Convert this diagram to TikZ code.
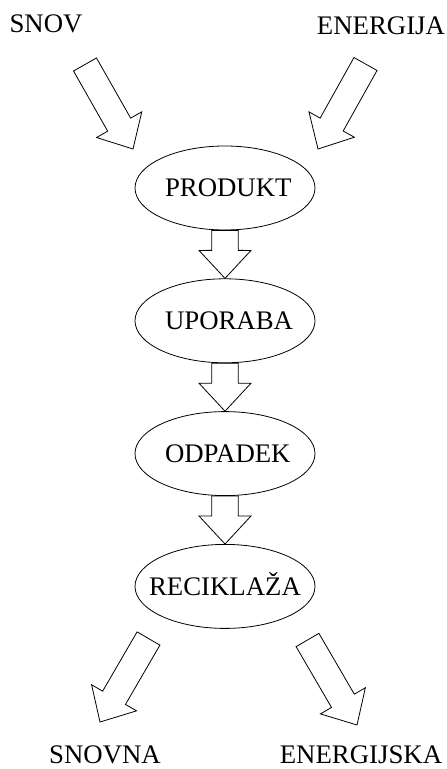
\documentclass[tikz,border=0pt]{standalone}
\usepackage{fontspec}
\setmainfont{Liberation Serif}
\usetikzlibrary{shapes.geometric,positioning,calc}

\tikzset{
  stage/.style={ellipse,draw,thin,minimum width=90pt,minimum height=42pt,inner sep=0pt,
    text width=60pt,align=center,text height=9pt,text depth=0pt},
  tag/.style={inner sep=0pt,text depth=0pt},
  flow/.style={draw,thin,line join=miter,to path={
      ($(\tikztostart)!6.6pt!90:(\tikztotarget)$)
   -- ($(\tikztotarget)!15.48pt!-25.24:(\tikztostart)$)
   -- ($(\tikztotarget)!19.10pt!-42.88:(\tikztostart)$)
   -- (\tikztotarget)
   -- ($(\tikztotarget)!19.10pt!42.88:(\tikztostart)$)
   -- ($(\tikztotarget)!15.48pt!25.24:(\tikztostart)$)
   -- ($(\tikztostart)!6.6pt!-90:(\tikztotarget)$) -- cycle}}
}

\begin{document}
\begin{tikzpicture}[x=0.5pt,y=-0.5pt,font=\fontsize{13.4}{16}\selectfont]
  \useasboundingbox (0,0) rectangle (446,769);
  % inputs and outputs
  \node[tag] (snov) at (46,24) {SNOV};
  \node[tag] (energija) at (381,26) {ENERGIJA};
  \node[tag] (snovna) at (105,755) {SNOVNA};
  \node[tag] (energijska) at (361,755) {ENERGIJSKA};
  % life cycle
  \node[stage] (produkt) at (225,188) {PRODUKT};
  \node[stage,below=24pt of produkt] (uporaba) {UPORABA};
  \node[stage,below=24pt of uporaba] (odpadek) {ODPADEK};
  \node[stage,below=24pt of odpadek] (reciklaza) {\makebox[60pt]{RECIKLAŽA}};
  % free ends of the slanted arrows
  \coordinate (snovS) at (85,64.5);
  \coordinate (snovT) at (133,149);
  \coordinate (energijaS) at (365.5,64);
  \coordinate (energijaT) at (318,149);
  \coordinate (snovnaS) at (148.5,638.5);
  \coordinate (snovnaT) at (100,722);
  \coordinate (energijskaS) at (307.5,640);
  \coordinate (energijskaT) at (357,725);
  \draw[flow] (snovS) to (snovT);
  \draw[flow] (energijaS) to (energijaT);
  \draw[flow] (produkt.south) to (uporaba.north);
  \draw[flow] (uporaba.south) to (odpadek.north);
  \draw[flow] (odpadek.south) to (reciklaza.north);
  \draw[flow] (snovnaS) to (snovnaT);
  \draw[flow] (energijskaS) to (energijskaT);
\end{tikzpicture}
\end{document}
